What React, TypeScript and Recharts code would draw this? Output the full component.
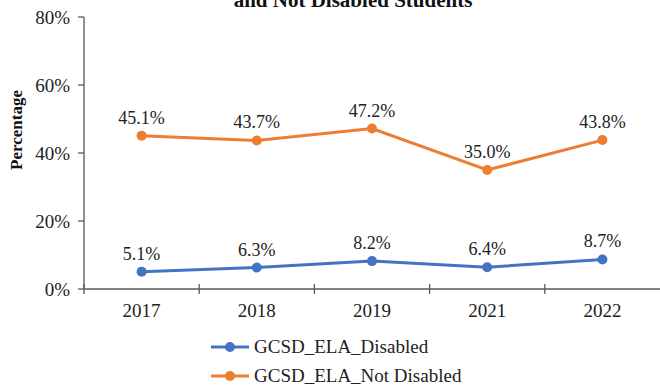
import { LineChart, Line, XAxis, YAxis, LabelList } from "recharts";

const years = ["2017", "2018", "2019", "2021", "2022"];
const disabled = [5.1, 6.3, 8.2, 6.4, 8.7];
const notDisabled = [45.1, 43.7, 47.2, 35.0, 43.8];
const yTicks = [0, 20, 40, 60, 80];
const seriesNames = ["GCSD_ELA_Disabled", "GCSD_ELA_Not Disabled"];

const BLUE = "#4472C4";
const ORANGE = "#ED7D31";
const AXIS = "#595959";
const FONT = '"Liberation Serif", "Times New Roman", serif';

const W = 660;
const H = 387;
const Y_AXIS_W = 84;
const PLOT_W = W - Y_AXIS_W;
const BAND = PLOT_W / years.length;

const data = years.map((year, i) => ({
  year,
  disabled: disabled[i],
  notDisabled: notDisabled[i],
}));

// category label at the centre, tick marks on the band boundaries
const XTick = (props: any) => {
  const { x, y, payload, index } = props;
  const right = x + BAND / 2;
  const left = x - BAND / 2;
  return (
    <g>
      {index === 0 && <line x1={left} x2={left} y1={y - 5} y2={y + 5} stroke={AXIS} strokeWidth={1.3} />}
      {index < years.length - 1 && (
        <line x1={right} x2={right} y1={y - 5} y2={y + 5} stroke={AXIS} strokeWidth={1.3} />
      )}
      <text x={x} y={y + 21} textAnchor="middle" dominantBaseline="central" fontSize={19} fontFamily={FONT} fill="#222">
        {payload.value}
      </text>
    </g>
  );
};

const pct = (v: any) => `${Number(v).toFixed(1)}%`;

const LegendRow = ({ color, name }: { color: string; name: string }) => (
  <div style={{ display: "flex", alignItems: "center", height: 29 }}>
    <svg width={40} height={12} style={{ marginRight: 3 }}>
      <line x1={0} x2={38} y1={6} y2={6} stroke={color} strokeWidth={3} />
      <circle cx={19} cy={6} r={5} fill={color} />
    </svg>
    <span style={{ fontSize: 19, fontFamily: FONT, color: "#222" }}>{name}</span>
  </div>
);

export default function App() {
  return (
    <div style={{ position: "absolute", left: 0, top: 0, width: W, height: H, background: "#fff", overflow: "hidden" }}>
      <div
        style={{
          position: "absolute",
          left: 0,
          width: W,
          top: -12,
          textAlign: "center",
          paddingLeft: 46,
          boxSizing: "border-box",
          fontFamily: FONT,
          fontWeight: "bold",
          fontSize: 21,
          color: "#111",
        }}
      >
        and Not Disabled Students
      </div>
      <LineChart width={W} height={H} data={data} margin={{ top: 17, right: 0, left: 0, bottom: 68 }}>
        <XAxis
          dataKey="year"
          axisLine={{ stroke: AXIS, strokeWidth: 1.3 }}
          tickLine={false}
          tickSize={0}
          tickMargin={0}
          height={30}
          padding={{ left: BAND / 2, right: BAND / 2 }}
          tick={<XTick />}
          interval={0}
        />
        <YAxis
          domain={[0, 80]}
          ticks={yTicks}
          width={Y_AXIS_W}
          axisLine={{ stroke: AXIS, strokeWidth: 1.3 }}
          tickLine={{ stroke: AXIS, strokeWidth: 1.3 }}
          tickSize={6}
          tickMargin={8}
          tickFormatter={(v: number) => `${v}%`}
          tick={{ fontSize: 19, fontFamily: FONT, fill: "#222" }}
          label={{
            content: () => (
              <text
                x={16}
                y={130}
                transform="rotate(-90 16 130)"
                textAnchor="middle"
                dominantBaseline="central"
                fontSize={17}
                fontWeight="bold"
                fontFamily={FONT}
                fill="#111"
              >
                Percentage
              </text>
            ),
          }}
        />
        <Line
          dataKey="notDisabled"
          stroke={ORANGE}
          strokeWidth={3}
          dot={{ r: 5, fill: ORANGE, stroke: ORANGE, strokeWidth: 0 }}
          isAnimationActive={false}
        >
          <LabelList dataKey="notDisabled" position="top" offset={12} formatter={pct} fontSize={18} fontFamily={FONT} fill="#222" />
        </Line>
        <Line
          dataKey="disabled"
          stroke={BLUE}
          strokeWidth={3}
          dot={{ r: 5, fill: BLUE, stroke: BLUE, strokeWidth: 0 }}
          isAnimationActive={false}
        >
          <LabelList dataKey="disabled" position="top" offset={12} formatter={pct} fontSize={18} fontFamily={FONT} fill="#222" />
        </Line>
      </LineChart>
      <div style={{ position: "absolute", left: 211, top: 332 }}>
        <LegendRow color={BLUE} name={seriesNames[0]} />
        <LegendRow color={ORANGE} name={seriesNames[1]} />
      </div>
    </div>
  );
}
